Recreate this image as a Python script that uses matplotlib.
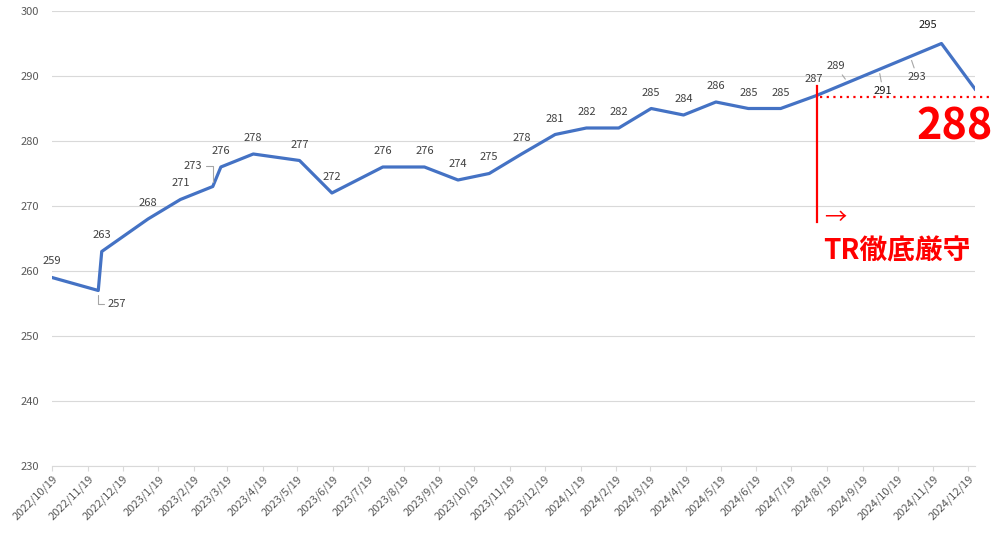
import numpy as np
import pandas as pd
import matplotlib
matplotlib.use('Agg')
import matplotlib.pyplot as plt
import matplotlib.dates as mdates
from matplotlib.ticker import FuncFormatter

plt.rcParams['font.family'] = ['Noto Sans CJK JP', 'DejaVu Sans']

# データ
dates = ['2022-10-19', '2022-11-28', '2022-12-01', '2023-01-10', '2023-02-07',
         '2023-03-07', '2023-03-14', '2023-04-11', '2023-05-21', '2023-06-18',
         '2023-08-01', '2023-09-06', '2023-10-05', '2023-11-01', '2023-11-29',
         '2023-12-28', '2024-01-24', '2024-02-21', '2024-03-20', '2024-04-17',
         '2024-05-15', '2024-06-12', '2024-07-10', '2024-08-10', '2024-09-06',
         '2024-10-03', '2024-10-30', '2024-11-26', '2024-12-25']
values = [259, 257, 263, 268, 271, 273, 276, 278, 277, 272,
          276, 276, 274, 275, 278, 281, 282, 282, 285, 284,
          286, 285, 285, 287, 289, 291, 293, 295, 288]
tr_date = '2024-08-10'
tr_level = 286.7
target_text = '288'
tr_text = 'TR徹底厳守'

x = pd.to_datetime(dates)

fig = plt.figure(figsize=(9.97, 5.33), dpi=100)
ax = fig.add_axes([52/997, 67/533, (975-52)/997, (466-11)/533])

ax.plot(x, values, color='#4472C4', lw=2.3, solid_joinstyle='round', zorder=3)

ax.set_ylim(230, 300)
ax.set_yticks(np.arange(230, 301, 10))
ax.set_xlim(pd.Timestamp('2022-10-19'), pd.Timestamp('2024-12-25'))
ax.xaxis.set_major_locator(mdates.MonthLocator(bymonthday=19))
ax.xaxis.set_major_formatter(FuncFormatter(
    lambda v, p: (lambda d: f'{d.year}/{d.month}/{d.day}')(mdates.num2date(v))))

ax.grid(axis='y', color='#d9d9d9', lw=0.8)
ax.set_axisbelow(True)
for s in ['left', 'right', 'top']:
    ax.spines[s].set_visible(False)
ax.spines['bottom'].set_color('#d9d9d9')
ax.tick_params(axis='y', length=0, pad=9, labelsize=8, labelcolor='#595959')
ax.tick_params(axis='x', length=3.5, color='#d9d9d9', labelsize=8, labelcolor='#595959', pad=2)
for lbl in ax.get_xticklabels():
    lbl.set_rotation(45)
    lbl.set_ha('right')
    lbl.set_rotation_mode('anchor')

# データラベル（特殊な位置は px オフセット）
special = {1: (19, -13.5), 5: (-20, 20.5), 23: (-3, 16.5), 24: (-12, 16.5),
           25: (4, -21.5), 26: (7, -20.5), 27: (-14, 18.5)}
leader = {1: 'angle,angleA=0,angleB=90,rad=0', 5: 'angle,angleA=0,angleB=90,rad=0',
          24: 'arc3', 25: 'arc3', 26: 'arc3'}
for i, (xi, v) in enumerate(zip(x, values)):
    if i == len(values) - 1:
        continue
    dx, dy = special.get(i, (0, 16))
    col = '#1a1a1a' if i in (25, 27) else '#404040'
    ap = None
    if i in leader:
        ap = dict(arrowstyle='-', color='#a6a6a6', lw=0.8,
                  connectionstyle=leader[i], shrinkA=1, shrinkB=3)
    ax.annotate(str(v), (xi, v), xytext=(dx*0.72, dy*0.72), textcoords='offset points',
                ha='center', va='center', fontsize=8, color=col, arrowprops=ap, zorder=4)

# 赤い注釈
red = '#ff0000'
ax.plot([pd.Timestamp(tr_date)]*2, [267.5, 288.5], color=red, lw=1.6, zorder=5)
ax.plot([pd.Timestamp(tr_date) + pd.Timedelta(days=3), pd.Timestamp('2025-01-07')],
        [tr_level, tr_level], color=red, lw=1.6, ls=(0, (1, 2)),
        dash_capstyle='butt', clip_on=False, zorder=5)
fig.text(835/997, 1-218/533, '→', color=red, fontsize=16, ha='center', va='center')
fig.text(955/997, 1-126/533, target_text, color=red, fontsize=31, fontweight='bold',
         ha='center', va='center')
fig.text(897/997, 1-252/533, tr_text, color=red, fontsize=20, fontweight='bold',
         ha='center', va='center')

fig.savefig('out.png', dpi=100)
